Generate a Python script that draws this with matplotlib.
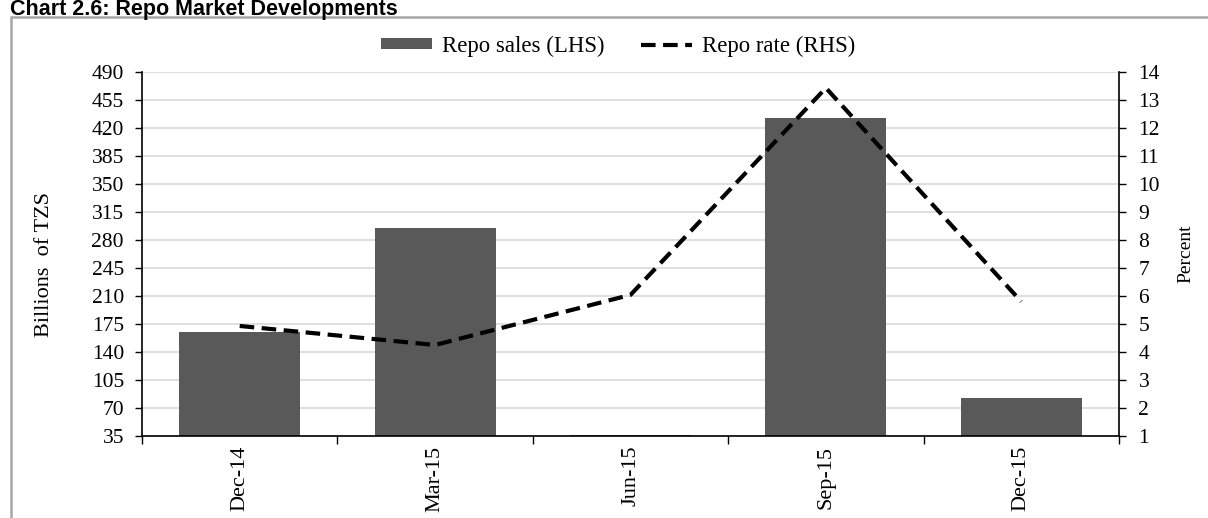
import matplotlib
matplotlib.use("Agg")
import matplotlib.pyplot as plt
from matplotlib.patches import Rectangle
from matplotlib.lines import Line2D
from matplotlib.patches import Patch

categories = ["Dec-14", "Mar-15", "Jun-15", "Sep-15", "Dec-15"]
repo_sales = [165, 295, 36, 432, 82]
repo_rate = [4.93, 4.25, 6.04, 13.43, 5.8]
left_ticks = [35, 70, 105, 140, 175, 210, 245, 280, 315, 350, 385, 420, 455, 490]
right_ticks = list(range(1, 15))

W, H = 1208, 518
fig = plt.figure(figsize=(W / 100, H / 100), dpi=100)
serif = "Liberation Serif"

# outer frame
fig.patches.append(Rectangle((11 / W, -0.1), 1.2, 1.1 - 17 / H, transform=fig.transFigure,
                             fill=False, edgecolor="#a6a6a6", linewidth=1.8, zorder=0))
fig.text(10 / W, 1 - 14.5 / H, "Chart 2.6: Repo Market Developments", fontfamily="Liberation Sans",
         fontweight="bold", fontsize=15.5, va="baseline", ha="left")

ax = fig.add_axes([142 / W, 1 - 436 / H, (1119 - 142) / W, (436 - 72) / H])
x = list(range(len(categories)))
ax.bar(x, repo_sales, width=0.62, color="#595959", zorder=2)
ax.set_xlim(-0.5, len(categories) - 0.5)
ax.set_ylim(35, 490)
ax.set_yticks(left_ticks)
ax.set_yticklabels([str(t) for t in left_ticks], fontfamily=serif, fontsize=15.5)
ax.yaxis.grid(True, color="#d9d9d9", linewidth=1.2, zorder=0)
ax.set_axisbelow(True)
ax.set_xticks([i - 0.5 for i in range(len(categories) + 1)])
ax.set_xticklabels([])
ax.set_xticks(x, minor=True)
ax.set_xticklabels(categories, minor=True, rotation=90, fontfamily=serif, fontsize=16)
ax.tick_params(axis="x", which="minor", length=0, pad=7)
ax.tick_params(axis="x", which="major", length=6, direction="out", width=1)
ax.tick_params(axis="y", length=5, direction="out", width=1, pad=8)
ax.set_ylabel("Billions  of TZS", fontfamily=serif, fontsize=16)
ax.yaxis.set_label_coords(-0.090, 0.47)
for s in ["top", "right"]:
    ax.spines[s].set_visible(False)
ax.spines["left"].set_linewidth(1.2)
ax.spines["bottom"].set_linewidth(1.2)

ax2 = ax.twinx()
ax2.plot(x, repo_rate, color="black", linestyle=(0, (3.5, 1.8)), linewidth=3, zorder=3)
ax2.set_ylim(1, 14)
ax2.set_yticks(right_ticks)
ax2.set_yticklabels([str(t) for t in right_ticks], fontfamily=serif, fontsize=15.5)
ax2.tick_params(axis="y", length=5, direction="out", width=1, pad=9)
ax2.set_ylabel("Percent", fontfamily=serif, fontsize=14)
ax2.yaxis.set_label_coords(1.0594, 0.5)
for s in ["top", "left", "bottom"]:
    ax2.spines[s].set_visible(False)
ax2.spines["right"].set_linewidth(1.2)

handles = [Patch(facecolor="#595959", edgecolor="none"),
           Line2D([0], [0], color="black", linestyle=(0, (3.5, 1.8)), linewidth=3)]
fig.legend(handles, ["Repo sales (LHS)", "Repo rate (RHS)"], loc="center",
           bbox_to_anchor=(618 / W, 1 - 46 / H), ncol=2, frameon=False,
           prop={"family": serif, "size": 16.4}, handlelength=2.24, handleheight=0.4,
           columnspacing=1.6, handletextpad=0.44)

fig.savefig("out.png", dpi=100)
